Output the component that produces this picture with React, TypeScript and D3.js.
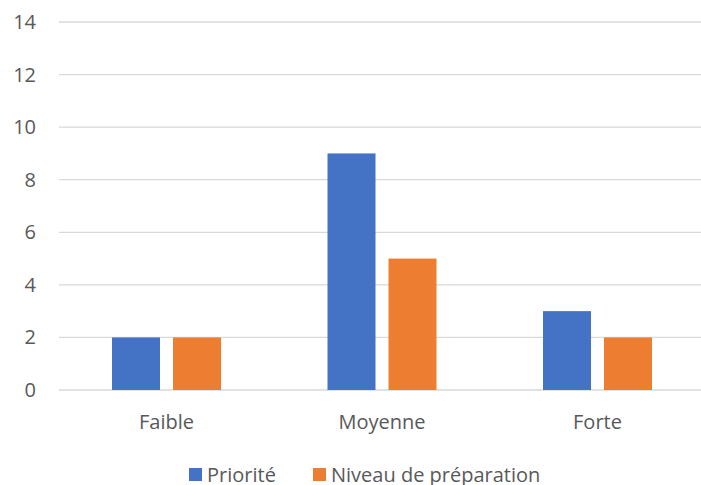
import * as d3 from "d3";

const categories = ["Faible", "Moyenne", "Forte"];
const seriesNames = ["Priorité", "Niveau de préparation"];
const priorite = [2, 9, 3];
const preparation = [2, 5, 2];
const yTicks = [0, 2, 4, 6, 8, 10, 12, 14];

const COLORS = ["#4472C4", "#ED7D31"];
const FONT = "'Open Sans', 'Liberation Sans', sans-serif";
const FS = 20;
const W = 701;
const H = 485;

export default function App() {
  const values = [priorite, preparation];

  const x0 = d3.scaleBand<string>().domain(categories).range([58.75, 705.25]);
  const y = d3.scaleLinear().domain([0, 14]).range([390, 22]);

  const groupW = 109;
  const x1 = d3
    .scaleBand<string>()
    .domain(seriesNames)
    .range([0, groupW])
    .paddingInner(13 / 61);

  return (
    <svg
      width={W}
      height={H}
      style={{ position: "absolute", left: 0, top: 0, background: "#fff" }}
      fontFamily={FONT}
    >
      {/* grid + y labels */}
      {yTicks.map((t) => (
        <g key={t}>
          <line x1={59} x2={W} y1={y(t)} y2={y(t)} stroke="#D9D9D9" strokeWidth={1.3} />
          <text
            x={36}
            y={y(t)}
            dy="0.35em"
            textAnchor="end"
            fill="#595959"
            fontSize={FS}
          >
            {t}
          </text>
        </g>
      ))}

      {/* bars */}
      {categories.map((c, i) => {
        const gx = x0(c)! + x0.bandwidth() / 2 - groupW / 2;
        return (
          <g key={c}>
            {seriesNames.map((s, j) => (
              <rect
                key={s}
                x={gx + x1(s)!}
                y={y(values[j][i])}
                width={x1.bandwidth()}
                height={y(0) - y(values[j][i])}
                fill={COLORS[j]}
              />
            ))}
            <text
              x={x0(c)! + x0.bandwidth() / 2}
              y={422}
              dy="0.35em"
              textAnchor="middle"
              fill="#595959"
              fontSize={FS}
            >
              {c}
            </text>
          </g>
        );
      })}

      {/* legend */}
      <g>
        <rect x={189} y={468} width={13} height={13} fill={COLORS[0]} />
        <text x={207} y={475} dy="0.35em" fill="#595959" fontSize={FS}>
          {seriesNames[0]}
        </text>
        <rect x={313} y={468} width={13} height={13} fill={COLORS[1]} />
        <text x={331} y={475} dy="0.35em" fill="#595959" fontSize={FS}>
          {seriesNames[1]}
        </text>
      </g>
    </svg>
  );
}
